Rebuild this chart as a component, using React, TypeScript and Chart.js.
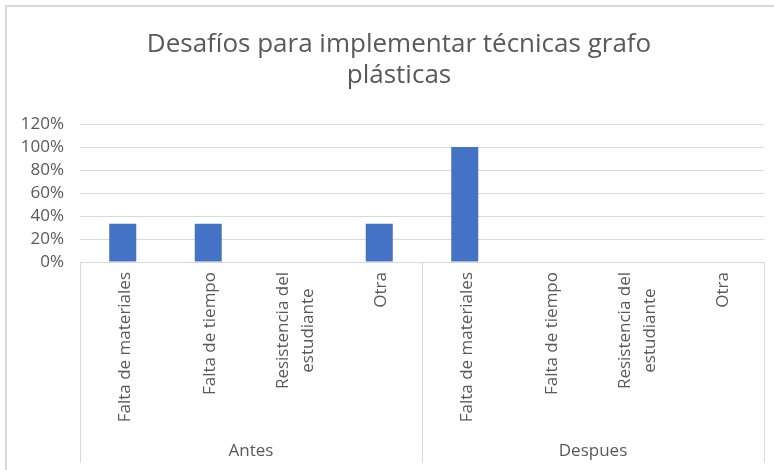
import React, { useEffect, useRef } from "react";
import { Chart, registerables } from "chart.js";

Chart.register(...registerables);

const titleLines = ["Desafíos para implementar técnicas grafo", "plásticas"];
const groups = ["Antes", "Despues"];
const categories: string[][] = [
  ["Falta de materiales"],
  ["Falta de tiempo"],
  ["Resistencia del", "estudiante"],
  ["Otra"],
];
const antesValues = [0.3333, 0.3333, 0, 0.3333];
const despuesValues = [1, 0, 0, 0];
const yMin = 0;
const yMax = 1.2;
const yStep = 0.2;

const FONT = "'Open Sans', 'Noto Sans', sans-serif";
const TEXT = "#595959";
const LINE = "#d9d9d9";
const BAR = "#4472C4";
const AXIS_FONT = 17;
const TITLE_FONT = 26;

const titlePlugin = {
  id: "excelTitle",
  afterDraw(chart: any) {
    const ctx = chart.ctx;
    ctx.save();
    ctx.fillStyle = TEXT;
    ctx.font = `${TITLE_FONT}px ${FONT}`;
    ctx.textAlign = "center";
    ctx.textBaseline = "alphabetic";
    const cx = (chart.width + 24) / 2;
    titleLines.forEach((t, i) => {
      ctx.fillText(t, cx, 52 + i * 31);
    });
    ctx.restore();
  },
};

const multiLevelAxisPlugin = {
  id: "multiLevelAxis",
  afterDraw(chart: any) {
    const x = chart.scales.x;
    const ctx = chart.ctx;
    const n = categories.length;
    const labels = chart.data.labels as string[][];
    const step = x.getPixelForValue(1) - x.getPixelForValue(0);
    const top = chart.chartArea.bottom;
    const bottom = 463;
    ctx.save();
    ctx.fillStyle = TEXT;
    ctx.font = `${AXIS_FONT}px ${FONT}`;
    const lineGap = 25;
    labels.forEach((lab, i) => {
      const cx = x.getPixelForValue(i) + 2;
      const maxW = Math.max(...lab.map((l) => ctx.measureText(l).width));
      const cy = top + 10 + maxW / 2;
      ctx.save();
      ctx.translate(cx, cy);
      ctx.rotate(-Math.PI / 2);
      ctx.textAlign = "center";
      ctx.textBaseline = "middle";
      lab.forEach((line, li) => {
        const off = (li - (lab.length - 1) / 2) * lineGap;
        ctx.fillText(line, 0, off);
      });
      ctx.restore();
    });
    ctx.strokeStyle = LINE;
    ctx.lineWidth = 1;
    ctx.textAlign = "center";
    ctx.textBaseline = "middle";
    groups.forEach((g, gi) => {
      const left = x.getPixelForValue(gi * n) - step / 2;
      const right = x.getPixelForValue(gi * n + n - 1) + step / 2;
      [left, right].forEach((px) => {
        const p = Math.round(px) + 0.5;
        ctx.beginPath();
        ctx.moveTo(p, top);
        ctx.lineTo(p, bottom);
        ctx.stroke();
      });
      ctx.fillText(g, (left + right) / 2, 451);
    });
    ctx.restore();
  },
};

export default function App() {
  const ref = useRef<HTMLCanvasElement>(null);
  useEffect(() => {
    const labels: string[][] = [];
    groups.forEach(() => categories.forEach((c) => labels.push(c)));
    const chart = new Chart(ref.current!, {
      type: "bar",
      data: {
        labels,
        datasets: [
          {
            data: [...antesValues, ...despuesValues],
            backgroundColor: BAR,
            borderWidth: 0,
            categoryPercentage: 1,
            barPercentage: 0.316,
          },
        ],
      },
      options: {
        responsive: false,
        animation: false,
        layout: { padding: { left: 0, right: 10, top: 124, bottom: 0 } },
        plugins: {
          legend: { display: false },
          tooltip: { enabled: false },
          title: { display: false },
        },
        scales: {
          x: {
            grid: { display: false, drawTicks: false },
            border: { display: false },
            ticks: { display: false, autoSkip: false },
            afterFit: (s: any) => {
              s.height = 208;
            },
          },
          y: {
            min: yMin,
            max: yMax,
            grid: { color: LINE, drawTicks: false },
            border: { display: false },
            ticks: {
              stepSize: yStep,
              autoSkip: false,
              color: TEXT,
              font: { family: FONT, size: AXIS_FONT },
              padding: 16,
              callback: (v: any) => `${Math.round(Number(v) * 100)}%`,
            },
            afterFit: (s: any) => {
              s.width = 80;
            },
          },
        },
      },
      plugins: [multiLevelAxisPlugin, titlePlugin],
    });
    return () => chart.destroy();
  }, []);
  return (
    <div
      style={{
        position: "fixed",
        left: 0,
        top: 0,
        width: 774,
        height: 470,
        overflow: "hidden",
        background: "#fff",
      }}
    >
      <div
        style={{
          position: "absolute",
          left: 5,
          top: 5,
          width: 800,
          height: 520,
          border: `2px solid ${LINE}`,
        }}
      />
      <canvas
        ref={ref}
        width={774}
        height={470}
        style={{ position: "absolute", left: 0, top: 0, display: "block" }}
      />
    </div>
  );
}
